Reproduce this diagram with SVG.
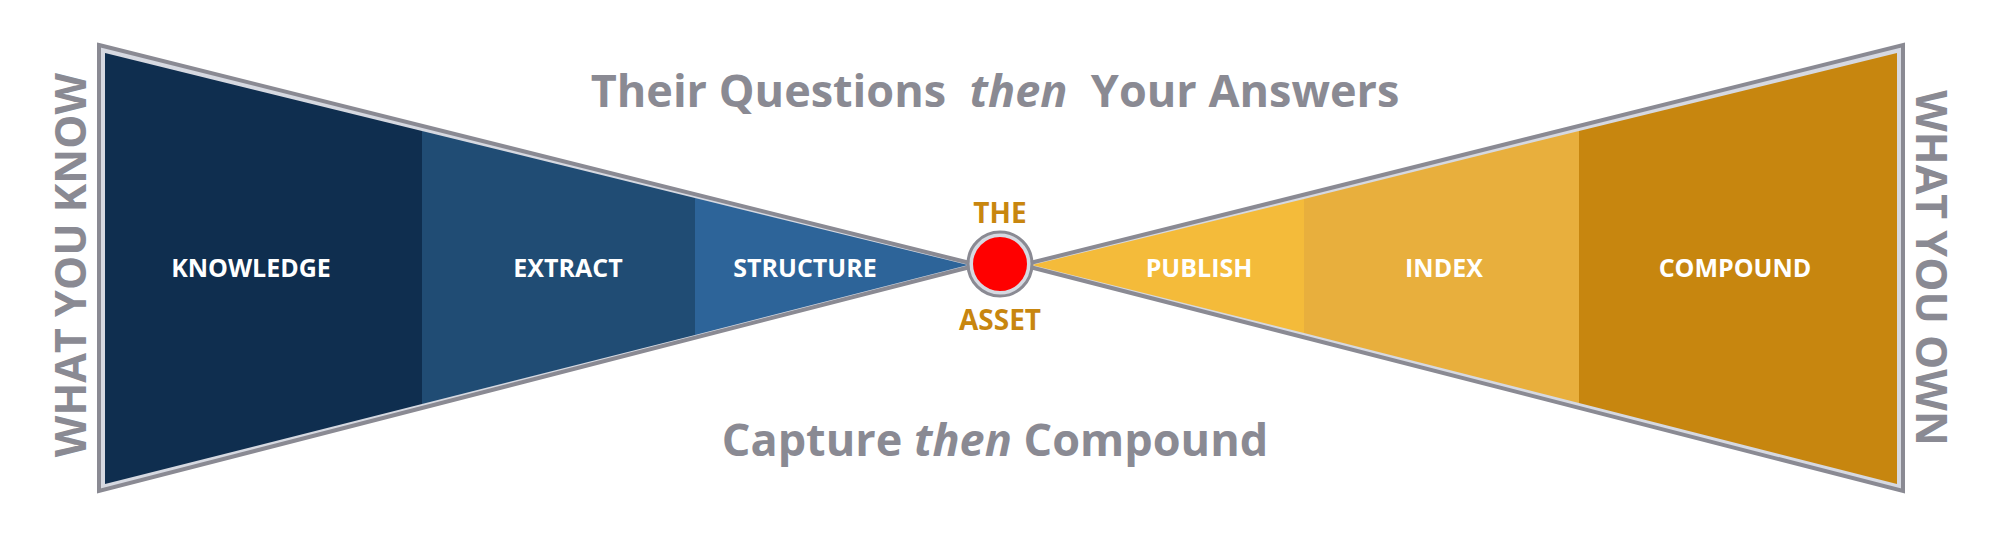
<svg xmlns="http://www.w3.org/2000/svg" width="2000" height="548" viewBox="0 0 2000 548">
<style>
.frame{fill:#d6d9e1;stroke:#8a8a93;stroke-width:4;stroke-linejoin:miter}
.lbl{font-family:"Open Sans","Liberation Sans",sans-serif;font-weight:bold;font-size:25px;fill:#fff;text-anchor:middle}
.big{font-family:"Open Sans","Liberation Sans",sans-serif;font-weight:bold;font-size:45px;fill:#8a8a93;text-anchor:middle}
.side{font-family:"Open Sans","Liberation Sans",sans-serif;font-weight:bold;font-size:43px;fill:#8a8a93;text-anchor:middle}
.gold{font-family:"Open Sans","Liberation Sans",sans-serif;font-weight:bold;font-size:28px;fill:#c8860f;text-anchor:middle}
</style>
<rect width="2000" height="548" fill="#fff"/>
<g id="left-funnel">
<polygon class="frame" points="99,45 978,265 99,491"/>
<g id="knowledge"><polygon points="105,53 422,131 422,404 105,484" fill="#0f2e4f"/><text class="lbl" x="251" y="277">KNOWLEDGE</text></g>
<g id="extract"><polygon points="422,131 695,198 695,335 422,404" fill="#204c74"/><text class="lbl" x="568" y="277">EXTRACT</text></g>
<g id="structure"><polygon points="695,198 968,265 695,335" fill="#2d6499"/><text class="lbl" x="805" y="277">STRUCTURE</text></g>
</g>
<g id="right-funnel">
<polygon class="frame" points="1022,265 1903,45 1903,491"/>
<g id="publish"><polygon points="1032,265 1304,199 1304,333" fill="#f4bb3a"/><text class="lbl" x="1199" y="277">PUBLISH</text></g>
<g id="index"><polygon points="1304,199 1579,131 1579,403 1304,333" fill="#e8af3d"/><text class="lbl" x="1444" y="277">INDEX</text></g>
<g id="compound"><polygon points="1579,131 1897,53 1897,484 1579,403" fill="#c7860f"/><text class="lbl" x="1735" y="277">COMPOUND</text></g>
</g>
<g id="asset">
<circle cx="1000" cy="264" r="29" fill="#f00" stroke="#d6d9e1" stroke-width="4"/>
<circle cx="1000" cy="264" r="32" fill="none" stroke="#8a8a93" stroke-width="3"/>
<text class="gold" x="1000" y="223">THE</text>
<text class="gold" x="1000" y="330">ASSET</text>
</g>
<g id="titles">
<text class="big" x="995" y="107" xml:space="preserve">Their Questions  <tspan font-style="italic">then</tspan>  Your Answers</text>
<text class="big" x="995" y="456">Capture <tspan font-style="italic">then</tspan> Compound</text>
<text class="side" transform="translate(86,265) rotate(-90)">WHAT YOU KNOW</text>
<text class="side" transform="translate(1916,268) rotate(90)">WHAT YOU OWN</text>
</g>
</svg>
